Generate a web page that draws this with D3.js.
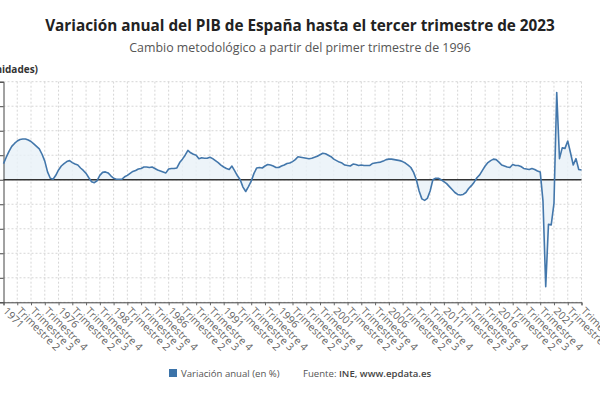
<!DOCTYPE html>
<html>
<head>
<meta charset="utf-8">
<script src="https://cdn.jsdelivr.net/npm/d3@7"></script>
<style>
  html, body { margin: 0; padding: 0; background: #fff; }
  svg { display: block; font-family: "Open Sans", "Noto Sans", sans-serif; }
</style>
</head>
<body>
<svg id="chart" width="600" height="400"></svg>
<script>
// ---- Data ----
const titleText = "Variación anual del PIB de España hasta el tercer trimestre de 2023";
const subtitleText = "Cambio metodológico a partir del primer trimestre de 1996";
const yAxisTitle = "(Unidades)";
const seriesName = "Variación anual (en %)";
const sourceLabel = "Fuente:";
const sourceText = "INE, www.epdata.es";

const firstYear = 1971;
const lastYear = 2023;
const lastQuarter = 3;

// Annual GDP variation (%), quarterly from 1971 Q1 to 2023 Q3
const gdpVariation = [
  3.3, 4.6, 5.8, 6.8,   7.4, 7.9, 8.2, 8.3,   8.3, 8.1, 7.8, 7.3,   6.8, 6.3, 5.2, 3.8,
  1.6, 0.3, 0.1, 0.9,   2.0, 2.8, 3.3, 3.7,   3.9, 3.5, 3.2, 3.0,   2.4, 1.9, 1.3, 0.4,
  -0.4, -0.6, -0.2, 0.9, 1.5, 1.6, 1.4, 0.8,  0.3, 0.1, 0.1, 0.1,   0.6, 0.9, 1.3, 1.7,
  1.9, 2.2, 2.3, 2.6,   2.6, 2.5, 2.6, 2.3,   2.0, 1.8, 1.6, 1.4,   2.2, 2.3, 2.3, 2.4,
  3.5, 4.2, 5.0, 6.0,   5.5, 5.2, 5.0, 4.3,   4.5, 4.4, 4.4, 4.6,   4.3, 3.9, 3.5, 3.0,
  2.6, 2.3, 2.1, 2.8,   1.8, 0.8, 0.0, -1.5,  -2.4, -1.4, -0.3, 1.3, 2.4, 2.5, 2.4, 2.8,
  3.1, 3.0, 2.8, 2.5,   2.5, 2.8, 3.0, 3.3,   3.4, 3.7, 4.1, 4.7,   4.6, 4.5, 4.4, 4.3,
  4.4, 4.6, 4.8, 5.1,   5.4, 5.3, 5.0, 4.7,   4.2, 3.9, 3.6, 3.4,   3.0, 2.9, 2.8, 3.2,
  3.1, 2.9, 3.0, 2.9,   2.9, 2.9, 3.3, 3.4,   3.5, 3.6, 3.8, 4.1,   4.2, 4.2, 4.1, 4.0,
  3.9, 3.7, 3.4, 3.0,   2.5, 1.5, 0.0, -2.3,  -3.9, -4.2, -3.8, -2.3, 0.0, 0.3, 0.3, 0.0,
  -0.4, -0.8, -1.4, -2.0, -2.6, -3.0, -3.1, -3.0, -2.6, -1.8, -1.2, -0.5, 0.4, 1.0, 1.9, 2.8,
  3.5, 3.9, 4.2, 4.1,   3.6, 3.0, 2.8, 2.6,   2.5, 3.1, 2.9, 2.9,   2.7, 2.3, 2.2, 2.1,
  2.3, 2.1, 1.8, 1.6,   -4.3, -21.8, -9.1, -9.2, -4.8, 17.8, 4.3, 6.5, 6.4, 7.9, 5.5, 3.0,
  4.3, 2.1, 2.0
];

const yTicks = [-25, -20, -15, -10, -5, 0, 5, 10, 15, 20];
const tickStep = 5; // one label every 5 quarters

// ---- Build categories ----
const categories = [];
for (let yr = firstYear; yr <= lastYear; yr++) {
  for (let q = 1; q <= 4; q++) {
    if (yr === lastYear && q > lastQuarter) break;
    categories.push(q === 1 ? String(yr) : "Trimestre " + q);
  }
}
const data = categories.map((c, i) => ({ key: i, label: c, value: gdpVariation[i] }));
const tickIndexes = categories.map((c, i) => i).filter(i => i % tickStep === 0);

// ---- Layout ----
const svg = d3.select("#chart");
const plot = { left: 3.5, right: 581.5, top: 81.7, bottom: 302.3 };

const x = d3.scalePoint().domain(data.map(d => d.key)).range([plot.left, plot.right]);
const y = d3.scaleLinear().domain([-25, 20]).range([plot.bottom, plot.top]);

svg.append("rect").attr("width", 600).attr("height", 400).attr("fill", "#fff");

// Titles
svg.append("text").attr("x", 300).attr("y", 31).attr("text-anchor", "middle")
  .attr("font-size", 15.3).attr("font-weight", 700).attr("fill", "#222").text(titleText);
svg.append("text").attr("x", 300).attr("y", 52).attr("text-anchor", "middle")
  .attr("font-size", 12.4).attr("fill", "#555").text(subtitleText);
svg.append("text").attr("x", 38).attr("y", 73).attr("text-anchor", "end")
  .attr("font-size", 10).attr("font-weight", 700).attr("fill", "#333").text(yAxisTitle);

// Grid
const grid = svg.append("g");
grid.selectAll("line.h").data(yTicks).join("line")
  .attr("x1", plot.left).attr("x2", plot.right)
  .attr("y1", d => y(d)).attr("y2", d => y(d))
  .attr("stroke", "#d6d6d6").attr("stroke-width", 1).attr("stroke-dasharray", "2,2");
grid.selectAll("line.v").data(tickIndexes.slice(1)).join("line")
  .attr("x1", d => x(d)).attr("x2", d => x(d))
  .attr("y1", plot.top).attr("y2", plot.bottom)
  .attr("stroke", "#d6d6d6").attr("stroke-width", 1).attr("stroke-dasharray", "2,2");

// Area
const area = d3.area().x(d => x(d.key)).y0(y(0)).y1(d => y(d.value));
svg.append("path").datum(data).attr("d", area).attr("fill", "#e9f1f8").attr("fill-opacity", 0.8);

// Y axis line with ticks
const yAxis = d3.axisLeft(y).tickValues(yTicks).tickSize(4).tickFormat("");
svg.append("g").attr("transform", `translate(${plot.left},0)`).call(yAxis)
  .call(g => g.select(".domain").attr("stroke", "#444"))
  .call(g => g.selectAll(".tick line").attr("stroke", "#444"));

// X axis
const xAxis = d3.axisBottom(x).tickValues(tickIndexes).tickSize(3).tickFormat(i => categories[i]);
const xg = svg.append("g").attr("transform", `translate(0,${plot.bottom})`).call(xAxis);
xg.select(".domain").attr("stroke", "#444");
xg.selectAll(".tick line").attr("stroke", "#666");
xg.selectAll(".tick text")
  .attr("font-family", "'Open Sans', sans-serif")
  .attr("font-size", 10.5).attr("fill", "#666")
  .attr("text-anchor", "start")
  .attr("x", 0).attr("y", 0).attr("dy", "0.75em")
  .attr("transform", "translate(4,4) rotate(45)");

// Zero line
svg.append("line").attr("x1", plot.left).attr("x2", plot.right)
  .attr("y1", y(0)).attr("y2", y(0)).attr("stroke", "#333").attr("stroke-width", 1.6);

// Line
const line = d3.line().x(d => x(d.key)).y(d => y(d.value));
svg.append("path").datum(data).attr("d", line).attr("fill", "none")
  .attr("stroke", "#4377ab").attr("stroke-width", 1.6).attr("stroke-linejoin", "round");

// Legend
svg.append("rect").attr("x", 169).attr("y", 369).attr("width", 8).attr("height", 8).attr("fill", "#3b73a9");
svg.append("text").attr("x", 181).attr("y", 377).attr("font-size", 9.6).attr("fill", "#555").text(seriesName);
const src = svg.append("text").attr("x", 303).attr("y", 377).attr("font-size", 9.6).attr("fill", "#555");
src.append("tspan").text(sourceLabel + " ");
src.append("tspan").attr("font-weight", 600).attr("fill", "#444").text(sourceText);
</script>
</body>
</html>
